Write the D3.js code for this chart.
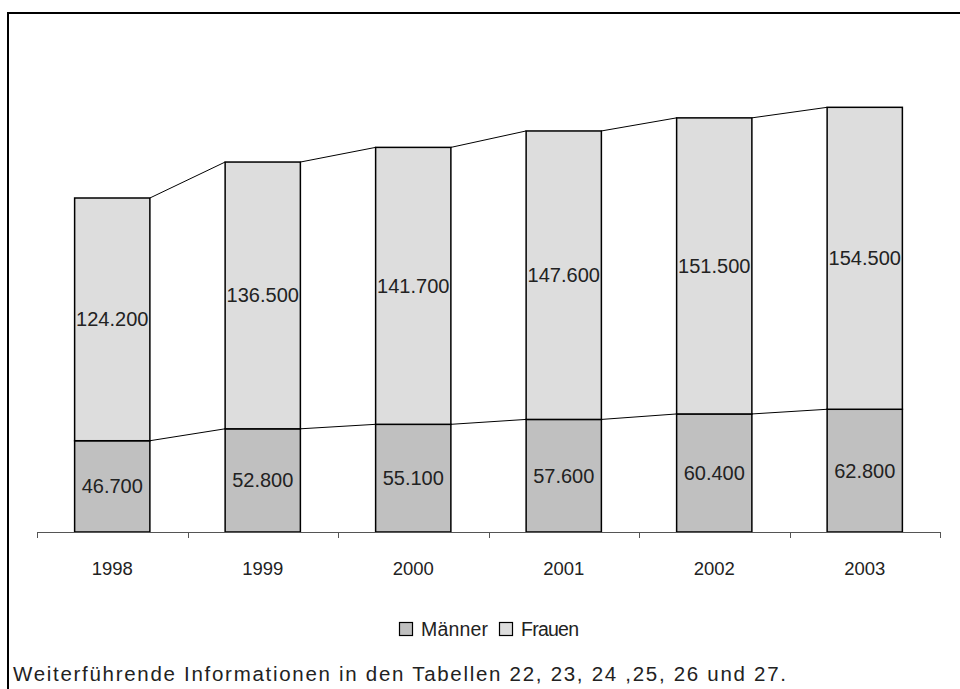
<!DOCTYPE html>
<html><head><meta charset="utf-8">
<script src="https://cdn.jsdelivr.net/npm/d3@7"></script>
<style>html,body{margin:0;padding:0;background:#fff;overflow:hidden}svg{display:block}text{font-family:"Liberation Sans",Arial,sans-serif;fill:#222}</style>
</head><body><svg id="c" width="960" height="689"></svg>
<script>
const years = ["1998","1999","2000","2001","2002","2003"];
const maenner = [46.7, 52.8, 55.1, 57.6, 60.4, 62.8];
const frauen = [124.2, 136.5, 141.7, 147.6, 151.5, 154.5];
const seriesNames = ["Männer","Frauen"];
const seriesColors = ["#c0c0c0","#dddddd"];
const footnote = "Weiterführende Informationen in den Tabellen 22, 23, 24 ,25, 26 und 27.";
const fmt = v => d3.format(".3f")(v);

const svg = d3.select("#c");
svg.append("path").attr("d","M8,689 V13 H960")
  .attr("fill","none").attr("stroke","#000").attr("stroke-width",2);

const x = d3.scaleBand().domain(years).range([37,940]).paddingInner(0.5).paddingOuter(0.25);
const y = d3.scaleLinear().domain([0,170.9]).range([532,198]);

const data = years.map((yr,i)=>({yr, m:maenner[i], f:frauen[i]}));
const stack = d3.stack().keys(["m","f"])(data);

const bw = x.bandwidth();
stack.forEach((layer,li)=>{
  svg.append("g").selectAll("rect").data(layer).join("rect")
    .attr("x",d=>x(d.data.yr)).attr("y",d=>y(d[1]))
    .attr("width",bw).attr("height",d=>y(d[0])-y(d[1]))
    .attr("fill",seriesColors[li]).attr("stroke","#000").attr("stroke-width",1.5);
  for(let i=0;i<layer.length-1;i++){
    const a=layer[i], b=layer[i+1];
    svg.append("line").attr("x1",x(a.data.yr)+bw).attr("y1",y(a[1]))
      .attr("x2",x(b.data.yr)).attr("y2",y(b[1])).attr("stroke","#000").attr("stroke-width",1);
  }
  svg.append("g").selectAll("text").data(layer).join("text")
    .attr("x",d=>x(d.data.yr)+bw/2).attr("y",d=>(y(d[0])+y(d[1]))/2)
    .attr("dy","0.35em").attr("text-anchor","middle").attr("font-size",20)
    .text(d=>fmt(d[1]-d[0]));
});

const xa = svg.append("g");
xa.append("line").attr("x1",37).attr("x2",940).attr("y1",532.5).attr("y2",532.5).attr("stroke","#555");
d3.range(years.length+1).forEach(i=>{
  const tx = Math.round(37+i*x.step())+0.5;
  xa.append("line").attr("x1",tx).attr("x2",tx).attr("y1",532).attr("y2",538).attr("stroke","#555");
});
xa.selectAll("text.yl").data(years).join("text").attr("class","yl")
  .attr("x",d=>x(d)+bw/2).attr("y",574.5).attr("text-anchor","middle").attr("font-size",18.5).text(d=>d);

const lg = svg.append("g");
const legendTextW = [67, 58];
let lx = 399;
seriesNames.forEach((n,i)=>{
  lg.append("rect").attr("x",lx+0.5).attr("y",622.5).attr("width",13).attr("height",13)
    .attr("fill",seriesColors[i]).attr("stroke","#000").attr("stroke-width",1.2);
  lg.append("text").attr("x",lx+22).attr("y",636).attr("font-size",19.5)
    .attr("textLength",legendTextW[i]).attr("lengthAdjust","spacing").text(n);
  lx += 22 + legendTextW[i] + 11;
});

svg.append("text").attr("x",13).attr("y",681).attr("font-size",20.5)
  .attr("textLength",773).attr("lengthAdjust","spacing").text(footnote);
</script></body></html>
